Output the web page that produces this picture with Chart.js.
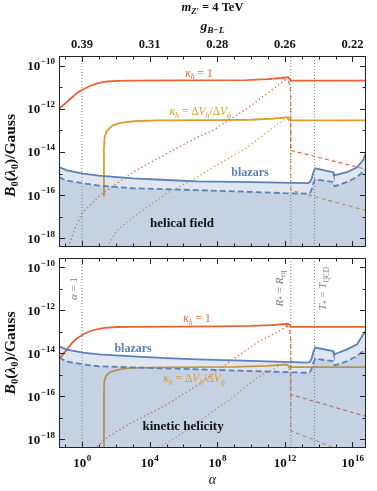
<!DOCTYPE html>
<html>
<head>
<meta charset="utf-8">
<script src="https://cdn.jsdelivr.net/npm/chart.js@4.4.0/dist/chart.umd.min.js"></script>
<style>
  body { margin: 0; background: #fff; }
  canvas { position: absolute; left: 0; }
</style>
</head>
<body>
<canvas id="topChart" width="377" height="252" style="top:0"></canvas>
<canvas id="botChart" width="377" height="239" style="top:252px"></canvas>
<script>
// all values are log10 (alpha on x, B0/Gauss on y)
const alphaTicks = [0, 4, 8, 12, 16];
const gTicks = ['0.39', '0.31', '0.28', '0.26', '0.22'];
const vLines = [0, 12.35, 13.75];   // alpha = 1, R* = Req, T* = TQCD
const xRange = [-1.36, 16.8];
const yRange = [-18.4, -9.56];

// helical field (top)
const topRedSolid = [[-1.36,-12.0],[-1.1,-11.83],[-0.89,-11.69],[-0.6,-11.48],[-0.41,-11.35],[-0.2,-11.22],[0.06,-11.11],[0.4,-10.97],[0.7,-10.88],[1.07,-10.79],[1.5,-10.74],[2.07,-10.71],[3,-10.7],[6,-10.69],[9.76,-10.68],[11,-10.63],[12.2,-10.54],[12.35,-10.7],[16.8,-10.7]];
const topRedDashed = [[11,-10.63],[11.8,-10.6],[12.1,-10.64],[12.22,-10.75],[12.3,-10.95],[12.35,-11.3],[12.35,-13.93],[16.8,-14.8]];
const topRedDotted = [[-0.83,-18.41],[-0.41,-17.53],[0,-16.84],[1.07,-16.0],[3.02,-14.94],[5.03,-14.06],[6.8,-13.33],[7.75,-13.0],[9.76,-11.99],[11.66,-10.88],[12.13,-10.6]];
const topOrangeSolid = [[1.3,-16.05],[1.3,-13.9],[1.33,-13.37],[1.42,-13.1],[1.6,-12.92],[1.83,-12.77],[2.3,-12.65],[3.02,-12.58],[4.5,-12.54],[8,-12.53],[10,-12.51],[11.3,-12.46],[12.2,-12.39],[12.35,-12.54],[16.8,-12.54]];
const topOrangeDashed = [[11.3,-12.46],[12.0,-12.42],[12.15,-12.45],[12.25,-12.55],[12.32,-12.75],[12.35,-13.0],[12.35,-15.77],[16.8,-16.71]];
const topOrangeDotted = [[1.48,-18.41],[2.07,-17.62],[3.02,-17.02],[5.03,-15.91],[6.8,-15.17],[7.75,-14.71],[9.76,-13.79],[11.72,-12.63],[12.13,-12.45]];
const topBlueSolid = [[-1.36,-14.7],[-0.89,-14.85],[0.06,-15.0],[1,-15.1],[3.02,-15.22],[5,-15.3],[6.8,-15.36],[10,-15.4],[13.37,-15.44],[13.5,-15.38],[13.6,-15.2],[13.68,-14.95],[13.79,-14.76],[14.85,-14.94],[14.9,-15.08],[15.68,-14.94],[16.27,-14.71],[16.63,-14.39],[16.8,-14.02]];
const topBlueDashed = [[-1.36,-15.17],[-0.89,-15.33],[0.06,-15.45],[1,-15.56],[3.02,-15.68],[6.8,-15.77],[10,-15.85],[12.35,-15.92],[13.37,-15.93],[13.5,-15.88],[13.6,-15.7],[13.68,-15.45],[13.79,-15.27],[14.85,-15.39],[14.95,-15.59],[15.68,-15.39],[16.27,-15.16],[16.8,-14.8]];

// kinetic helicity (bottom)
const botRedSolid = [[-1.36,-14.28],[-1.1,-14.02],[-0.89,-13.81],[-0.6,-13.52],[-0.3,-13.3],[0.06,-13.12],[0.4,-12.99],[0.7,-12.91],[1.07,-12.85],[1.5,-12.8],[2.1,-12.77],[3,-12.76],[8,-12.74],[10,-12.72],[11.2,-12.68],[12.2,-12.62],[12.35,-12.76],[16.8,-12.76]];
const botRedDashed = [[11.2,-12.68],[11.9,-12.65],[12.1,-12.69],[12.22,-12.8],[12.3,-13.0],[12.35,-13.4],[12.35,-15.91],[16.8,-16.93]];
const botRedDotted = [[0.89,-18.33],[1.48,-17.91],[2.84,-17.26],[5.03,-16.37],[6.98,-15.4],[8.93,-14.28],[10.36,-13.49],[11.72,-12.93],[12.13,-12.74]];
const botOrangeSolid = [[1.3,-18.45],[1.3,-15.7],[1.32,-15.3],[1.42,-15.05],[1.6,-14.9],[1.95,-14.8],[2.5,-14.71],[3.02,-14.67],[5,-14.65],[9,-14.63],[11,-14.58],[12.1,-14.51],[12.35,-14.64],[16.8,-14.64]];
const botOrangeDashed = [[11,-14.58],[11.9,-14.52],[12.1,-14.55],[12.22,-14.66],[12.3,-14.85],[12.35,-15.1],[12.35,-17.6],[15.1,-18.45]];
const botOrangeDotted = [[4.5,-18.37],[5.5,-17.95],[6.98,-17.12],[8.76,-16.14],[10.36,-15.12],[11.72,-14.56],[12.13,-14.47]];
const botBlueSolid = [[-1.36,-13.67],[-0.89,-13.82],[0.06,-13.96],[1,-14.04],[3.02,-14.14],[5,-14.22],[6.8,-14.28],[10,-14.35],[13.37,-14.43],[13.5,-14.38],[13.6,-14.2],[13.68,-13.93],[13.79,-13.73],[14.85,-13.89],[14.9,-14.05],[15.68,-13.81],[16.27,-13.58],[16.63,-13.12],[16.8,-12.93]];
const botBlueDashed = [[-1.36,-14.19],[-0.89,-14.38],[0.06,-14.51],[1,-14.6],[3.02,-14.65],[6.8,-14.74],[10,-14.82],[13.37,-14.9],[13.5,-14.85],[13.6,-14.68],[13.68,-14.45],[13.79,-14.25],[14.85,-14.36],[14.95,-14.56],[15.68,-14.36],[16.27,-14.12],[16.8,-13.78]];

const RED = 'rgb(235,98,53)';
const ORANGE = 'rgb(225,156,36)';
const BLUE = 'rgb(94,129,181)';
const FILL = 'rgba(94,129,181,0.2)';
const GRAY = '#808080';
const SERIF = '"Liberation Serif", "Times New Roman", serif';

function line(pts, color, width, dash, order) {
    return {
        data: pts.map(p => ({x: p[0], y: p[1]})),
        borderColor: color, borderWidth: width, borderDash: dash,
        pointRadius: 0, tension: 0, fill: false, order: order
    };
}

function area(pts) {
    return {
        data: pts.map(p => ({x: p[0], y: p[1]})),
        borderWidth: 0, borderColor: 'transparent', backgroundColor: FILL,
        pointRadius: 0, tension: 0, fill: 'start', order: 1
    };
}

function panel(red, orange, blue) {
    return [
        ...vLines.map(v => line([[v, yRange[0]], [v, yRange[1]]], GRAY, 1, [1, 2], 0)),
        line(blue[0], BLUE, 1.8, [], 0),
        line(blue[1], BLUE, 1.8, [6, 3], 0),
        area(blue[0]),
        area(blue[1]),
        line(red[0], RED, 1.8, [], 2),
        line(red[1], RED, 1.1, [4, 3], 2),
        line(red[2], RED, 1.3, [1.3, 2.7], 2),
        line(orange[0], ORANGE, 1.8, [], 2),
        line(orange[1], ORANGE, 1.1, [4, 3], 2),
        line(orange[2], ORANGE, 1.3, [1.3, 2.7], 2)
    ];
}

// text with italic / bold / subscript pieces
function drawRich(ctx, parts, x, y, size, color) {
    const fontOf = st => (st.includes('i') ? 'italic ' : '') + (st.includes('b') ? 'bold ' : '') +
        (st.includes('s') ? size * 0.68 : size) + 'px ' + SERIF;
    ctx.save();
    ctx.fillStyle = color;
    ctx.textBaseline = 'middle';
    ctx.textAlign = 'left';
    let w = 0;
    parts.forEach(p => { ctx.font = fontOf(p[1]); w += ctx.measureText(p[0]).width; });
    let cx = x - w / 2;
    parts.forEach(p => {
        ctx.font = fontOf(p[1]);
        ctx.fillText(p[0], cx, y + (p[1].includes('s') ? size * 0.3 : 0));
        cx += ctx.measureText(p[0]).width;
    });
    ctx.restore();
}

// "10" with a raised exponent
function drawPow(ctx, exp, x, y, align) {
    const e = String(exp).replace('-', '\u2212');
    ctx.save();
    ctx.fillStyle = '#111';
    ctx.textBaseline = 'middle';
    ctx.textAlign = 'left';
    ctx.font = 'bold 13px ' + SERIF;
    const bw = ctx.measureText('10').width;
    ctx.font = 'bold 9px ' + SERIF;
    const ew = ctx.measureText(e).width;
    const left = align === 'right' ? x - bw - ew - 0.5 : x - (bw + ew) / 2;
    ctx.font = 'bold 13px ' + SERIF;
    ctx.fillText('10', left, y);
    ctx.font = 'bold 9px ' + SERIF;
    ctx.fillText(e, left + bw + 0.5, y - 5);
    ctx.restore();
}

const kappaOne = [['κ','i'],['h','is'],[' = 1','']];
const kappaRatio = [['κ','i'],['h','is'],[' = Δ',''],['V','i'],['h','is'],['/Δ',''],['V','i'],['ϕ','is']];

const topNotes = [
    {x: 6.92, y: -10.37, parts: kappaOne, color: RED, size: 11.5},
    {x: 7.0, y: -12.17, parts: kappaRatio, color: ORANGE, size: 11.5},
    {x: 9.94, y: -14.99, parts: [['blazars','b']], color: BLUE, size: 12},
    {x: 5.92, y: -17.3, parts: [['helical field','b']], color: '#111', size: 13}
];
const botNotes = [
    {x: 6.8, y: -12.42, parts: kappaOne, color: RED, size: 11.5},
    {x: 3.02, y: -13.81, parts: [['blazars','b']], color: BLUE, size: 12},
    {x: 6.63, y: -15.21, parts: kappaRatio, color: ORANGE, size: 11.5},
    {x: 5.98, y: -17.4, parts: [['kinetic helicity','b']], color: '#111', size: 13},
    {x: -0.47, y: -10.98, parts: [['α','i'],[' = 1','']], color: GRAY, size: 11, rot: true},
    {x: 11.72, y: -10.98, parts: [['R','i'],['*','s'],[' = ',''],['R','i'],['eq','s']], color: GRAY, size: 11, rot: true},
    {x: 14.29, y: -10.98, parts: [['T','i'],['*','s'],[' = ',''],['T','i'],['QCD','s']], color: GRAY, size: 11, rot: true}
];

const framePlugin = {
    id: 'frame',
    afterDatasetsDraw(chart) {
        const {ctx, chartArea: a, scales} = chart;
        ctx.save();
        ctx.strokeStyle = '#222';
        ctx.lineWidth = 1;
        ctx.strokeRect(Math.round(a.left) + 0.5, Math.round(a.top) + 0.5,
            Math.round(a.right - a.left) - 1, Math.round(a.bottom - a.top) - 1);
        ctx.beginPath();
        scales.x.ticks.forEach(t => {
            const px = Math.round(scales.x.getPixelForValue(t.value)) + 0.5;
            const len = t.value % 4 === 0 ? 6 : 3.5;
            ctx.moveTo(px, a.bottom); ctx.lineTo(px, a.bottom - len);
            ctx.moveTo(px, a.top); ctx.lineTo(px, a.top + len);
        });
        scales.y.ticks.forEach(t => {
            const py = Math.round(scales.y.getPixelForValue(t.value)) + 0.5;
            const len = t.value % 2 === 0 ? 6 : 3.5;
            ctx.moveTo(a.left, py); ctx.lineTo(a.left + len, py);
            ctx.moveTo(a.right, py); ctx.lineTo(a.right - len, py);
        });
        ctx.stroke();
        ctx.restore();
        // power-of-ten tick labels
        scales.y.ticks.forEach(t => {
            if (t.value % 2 === 0) drawPow(ctx, t.value, a.left - 4, scales.y.getPixelForValue(t.value) + 1, 'right');
        });
        if (!chart.scales.x2) {
            scales.x.ticks.forEach(t => {
                if (alphaTicks.includes(t.value)) drawPow(ctx, t.value, scales.x.getPixelForValue(t.value), a.bottom + 16, 'center');
            });
        }
    }
};

function notesPlugin(notes, isTop) {
    return {
        id: 'notes',
        afterDatasetsDraw(chart) {
            const {ctx, chartArea: a, scales} = chart;
            notes.forEach(n => {
                const px = scales.x.getPixelForValue(n.x);
                const py = scales.y.getPixelForValue(n.y);
                if (n.rot) {
                    ctx.save();
                    ctx.translate(px, py);
                    ctx.rotate(-Math.PI / 2);
                    drawRich(ctx, n.parts, 0, 0, n.size, n.color);
                    ctx.restore();
                } else {
                    drawRich(ctx, n.parts, px, py, n.size, n.color);
                }
            });
            // y axis title
            ctx.save();
            ctx.translate(11, (a.top + a.bottom) / 2 + (isTop ? 4 : 0));
            ctx.rotate(-Math.PI / 2);
            drawRich(ctx, [['B','bi'],['0','bs'],['(','b'],['λ','bi'],['0','bs'],[')/Gauss','b']], 0, 0, 15.5, '#111');
            ctx.restore();
            if (isTop) {
                const cx = (a.left + a.right) / 2;
                drawRich(ctx, [['m','bi'],['Z′','bis'],[' = 4 TeV','b']], cx, 8, 12.5, '#111');
                drawRich(ctx, [['g','bi'],['B−L','bis']], cx, 27, 13.5, '#111');
            }
        }
    };
}

const tickFont = {family: SERIF, size: 12.5, weight: 'bold'};

function scalesFor(isTop) {
    const s = {
        x: {
            type: 'linear', min: xRange[0], max: xRange[1],
            grid: {display: false, drawTicks: false}, border: {display: false},
            ticks: {stepSize: 1, includeBounds: false, autoSkip: false, maxRotation: 0, display: false},
            title: {display: !isTop, text: 'α', color: '#111', padding: {top: 0, bottom: 2},
                font: {family: SERIF, size: 14, style: 'italic'}},
            afterFit: sc => { sc.height = isTop ? 5 : 43; sc.paddingLeft = 0; sc.paddingRight = 0; }
        },
        y: {
            type: 'linear', min: yRange[0], max: yRange[1],
            grid: {display: false, drawTicks: false}, border: {display: false},
            ticks: {stepSize: 1, includeBounds: false, autoSkip: false, display: false},
            afterFit: sc => { sc.width = 59; sc.paddingTop = 0; sc.paddingBottom = 0; }
        }
    };
    if (isTop) {
        s.x2 = {
            type: 'linear', position: 'top', min: xRange[0], max: xRange[1],
            grid: {display: false, drawTicks: false}, border: {display: false},
            ticks: {
                stepSize: 4, includeBounds: false, autoSkip: false, maxRotation: 0,
                padding: 4, font: tickFont, color: '#111',
                callback: v => alphaTicks.indexOf(v) >= 0 ? gTicks[alphaTicks.indexOf(v)] : ''
            },
            afterFit: sc => { sc.height = 56; sc.paddingLeft = 0; sc.paddingRight = 0; }
        };
    }
    return s;
}

function makeChart(id, datasets, notes, isTop) {
    return new Chart(document.getElementById(id).getContext('2d'), {
        type: 'line',
        data: {datasets: datasets},
        options: {
            responsive: false,
            animation: false,
            events: [],
            layout: {padding: {left: 0, right: 11, top: isTop ? 0 : 6, bottom: 0}},
            plugins: {legend: {display: false}, tooltip: {enabled: false}},
            scales: scalesFor(isTop)
        },
        plugins: [framePlugin, notesPlugin(notes, isTop)]
    });
}

const topChart = makeChart('topChart',
    panel([topRedSolid, topRedDashed, topRedDotted], [topOrangeSolid, topOrangeDashed, topOrangeDotted], [topBlueSolid, topBlueDashed]),
    topNotes, true);
const botChart = makeChart('botChart',
    panel([botRedSolid, botRedDashed, botRedDotted], [botOrangeSolid, botOrangeDashed, botOrangeDotted], [botBlueSolid, botBlueDashed]),
    botNotes, false);
</script>
</body>
</html>
